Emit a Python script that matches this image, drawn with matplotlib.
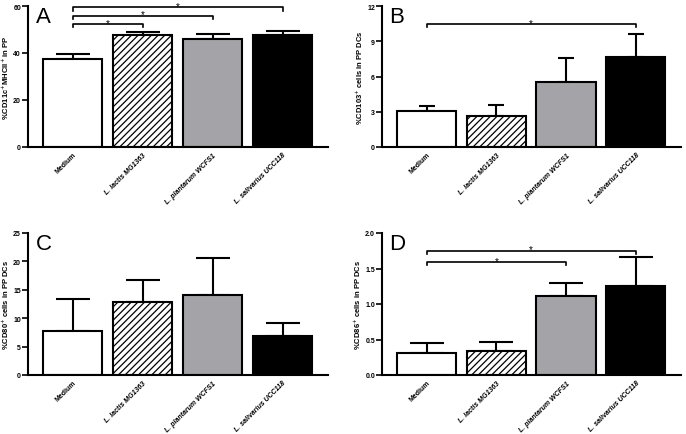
import numpy as np
import matplotlib
matplotlib.use("Agg")
import matplotlib.pyplot as plt

plt.rcParams['font.family'] = ['Liberation Sans', 'DejaVu Sans']
plt.rcParams['hatch.linewidth'] = 0.9

groups = ["Medium", "L. lactis MG1363", "L. plantarum WCFS1", "L. salivarius UCC118"]

# panel data: means and upper error (SEM)
a_mean = [37.5, 47.5, 46.0, 47.5]
a_err = [2.0, 1.6, 2.0, 2.0]
b_mean = [3.1, 2.63, 5.5, 7.65]
b_err = [0.43, 0.95, 2.1, 1.95]
c_mean = [7.7, 12.9, 14.1, 6.8]
c_err = [5.7, 3.9, 6.5, 2.3]
d_mean = [0.305, 0.335, 1.11, 1.25]
d_err = [0.15, 0.125, 0.19, 0.41]

ylabels = ["%CD11c$^{+}$MHCII$^{+}$ in PP",
           "%CD103$^{+}$ cells in PP DCs",
           "%CD80$^{+}$ cells in PP DCs",
           "%CD86$^{+}$ cells in PP DCs"]
yticks = [[0, 20, 40, 60], [0, 3, 6, 9, 12], [0, 5, 10, 15, 20, 25],
          [0.0, 0.5, 1.0, 1.5, 2.0]]
ytick_fmt = ["{:.0f}", "{:.0f}", "{:.0f}", "{:.1f}"]
letters = ["A", "B", "C", "D"]

# significance brackets: (from, to, height)
a_sig = [(0, 1, 52.3), (0, 2, 55.9), (0, 3, 59.4)]
b_sig = [(0, 3, 10.45)]
c_sig = []
d_sig = [(0, 2, 1.59), (0, 3, 1.75)]

colors = ["white", "white", "#a3a3a8", "black"]
hatches = [None, "/////", None, None]
capsizes = [12, 6, 12, 12]

fig = plt.figure(figsize=(6.86, 4.35), dpi=100)
W, H = 686.0, 435.0
boxes = [(28, 7, 328, 148), (382, 7, 681, 148), (28, 234, 328, 376), (382, 234, 681, 376)]

means = [a_mean, b_mean, c_mean, d_mean]
errs = [a_err, b_err, c_err, d_err]
sigs = [a_sig, b_sig, c_sig, d_sig]

x = np.arange(len(groups))
for k in range(4):
    l, t, r, b = boxes[k]
    ax = fig.add_axes([l / W, 1 - b / H, (r - l) / W, (b - t) / H])
    ax.bar(x, means[k], width=0.85, color=colors, edgecolor="black",
           linewidth=1.5, zorder=2)
    for p, h in zip(ax.patches, hatches):
        if h:
            p.set_hatch(h)
    ax.errorbar(x, means[k], yerr=[np.zeros(4), errs[k]], fmt="none",
                ecolor="black", elinewidth=1.5, capsize=capsizes[k],
                capthick=1.5, zorder=1)
    top = yticks[k][-1]
    ax.set_ylim(0, top)
    ax.set_xlim(-0.64, 3.65)
    ax.set_yticks(yticks[k])
    ax.set_yticklabels([ytick_fmt[k].format(v) for v in yticks[k]],
                       fontsize=5, fontweight="bold")
    ax.tick_params(axis="y", length=4, width=1.2, pad=1)
    ax.tick_params(axis="x", length=0, pad=3)
    ax.set_xticks(x)
    lbls = ax.set_xticklabels(groups, rotation=45, ha="right",
                              rotation_mode="anchor", fontsize=5,
                              fontweight="bold")
    for lb in lbls[1:]:
        lb.set_fontstyle("italic")
    for s in ["top", "right"]:
        ax.spines[s].set_visible(False)
    ax.spines["left"].set_linewidth(1.5)
    ax.spines["bottom"].set_linewidth(1.5)
    ax.set_ylabel(ylabels[k], fontsize=5.5, fontweight="bold", labelpad=1.5)
    ax.text(0.025, 1.0, letters[k], transform=ax.transAxes, fontsize=16,
            va="top", ha="left")
    d = top * 0.022
    for i, j, h in sigs[k]:
        ax.plot([i, i, j, j], [h - d, h, h, h - d], color="black", lw=1.2,
                clip_on=False)
        ax.text((i + j) / 2, h - top * 0.012, "*", ha="center",
                va="baseline", fontsize=7, clip_on=False)

fig.savefig("out.png", dpi=100)
